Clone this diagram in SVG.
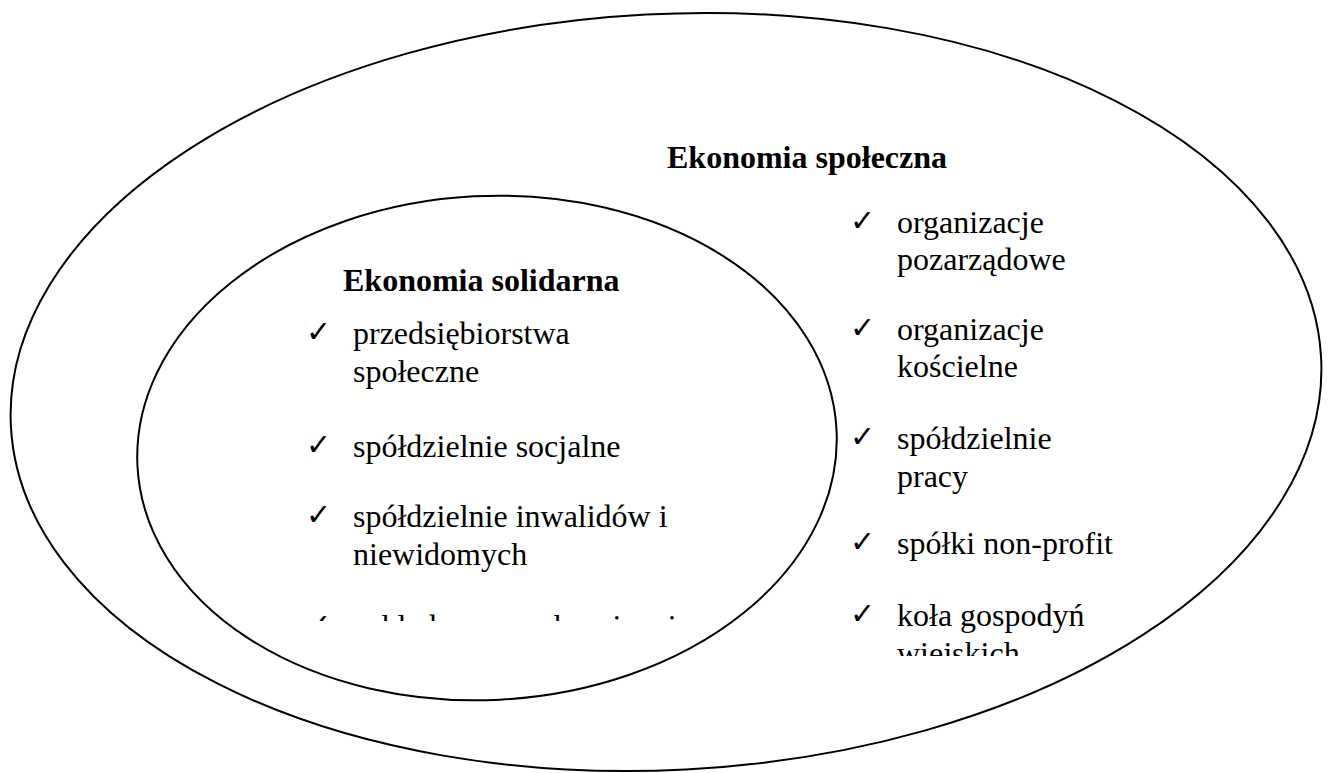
<svg xmlns="http://www.w3.org/2000/svg" width="1332" height="773" viewBox="0 0 1332 773">
<style>
.shape{fill:none;stroke:#000;stroke-width:2}
.t{font-family:"Liberation Serif","Times New Roman",serif;font-size:32px;fill:#000}
.h{font-family:"Liberation Serif","Times New Roman",serif;font-size:32px;font-weight:bold;fill:#000}
.ck{font-family:"DejaVu Sans",sans-serif;font-size:30px;fill:#000}
</style>
<defs>
<clipPath id="clipL"><rect x="0" y="0" width="1332" height="621"/></clipPath>
<clipPath id="clipR"><rect x="0" y="0" width="1332" height="656"/></clipPath>
</defs>
<rect width="1332" height="773" fill="#fff"/>
<g id="outer-ellipse">
<ellipse class="shape" cx="666" cy="392" rx="656" ry="378" transform="rotate(-3 666 392)"/>
</g>
<g id="inner-ellipse">
<ellipse class="shape" cx="487" cy="448" rx="350" ry="252" transform="rotate(-3 487 448)"/>
</g>
<g id="ekonomia-spoleczna">
<text class="h" x="667" y="168">Ekonomia społeczna</text>
<g clip-path="url(#clipR)">
<text class="ck" x="850" y="231">✓</text>
<text class="t" x="897" y="233">organizacje</text>
<text class="t" x="897" y="270">pozarządowe</text>
<text class="ck" x="850" y="338">✓</text>
<text class="t" x="897" y="340">organizacje</text>
<text class="t" x="897" y="377">kościelne</text>
<text class="ck" x="850" y="447">✓</text>
<text class="t" x="897" y="449">spółdzielnie</text>
<text class="t" x="897" y="487">pracy</text>
<text class="ck" x="850" y="552">✓</text>
<text class="t" x="897" y="554">spółki non-profit</text>
<text class="ck" x="850" y="624">✓</text>
<text class="t" x="897" y="626">koła gospodyń</text>
<text class="t" x="897" y="664">wiejskich</text>
</g>
</g>
<g id="ekonomia-solidarna">
<text class="h" x="343" y="291">Ekonomia solidarna</text>
<g clip-path="url(#clipL)">
<text class="ck" x="306" y="342">✓</text>
<text class="t" x="353" y="344">przedsiębiorstwa</text>
<text class="t" x="353" y="382">społeczne</text>
<text class="ck" x="306" y="455">✓</text>
<text class="t" x="353" y="457">spółdzielnie socjalne</text>
<text class="ck" x="306" y="525">✓</text>
<text class="t" x="353" y="527">spółdzielnie inwalidów i</text>
<text class="t" x="353" y="565">niewidomych</text>
<text class="ck" x="306" y="635">✓</text>
<text class="t" x="353" y="637">zakłady pracy chronionej</text>
</g>
</g>
</svg>
